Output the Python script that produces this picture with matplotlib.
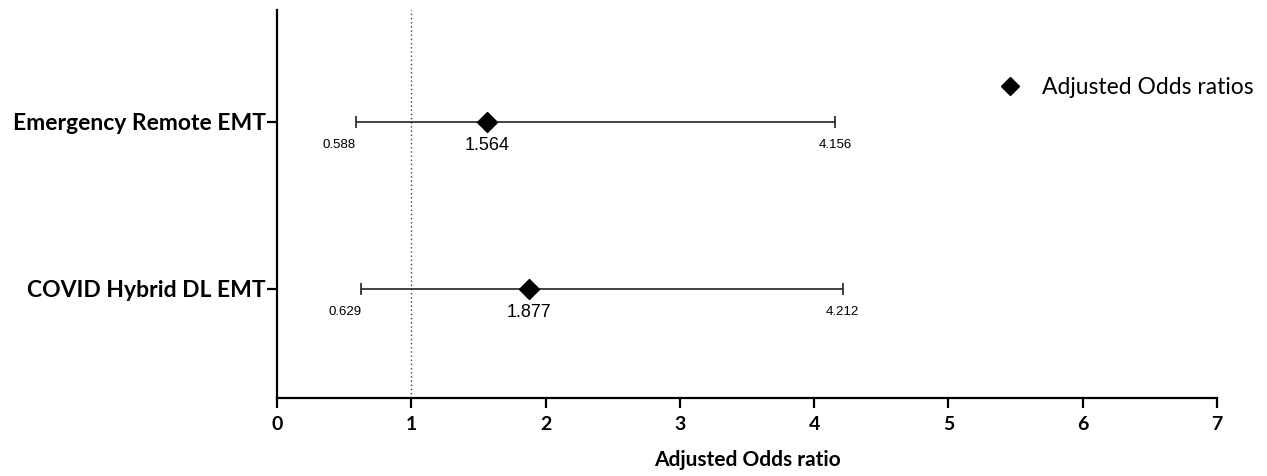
import matplotlib.pyplot as plt
import numpy as np

groups = ["Emergency Remote EMT", "COVID Hybrid DL EMT"]
odds = [1.564, 1.877]
lower = [0.588, 0.629]
upper = [4.156, 4.212]
odds_labels = ["1.564", "1.877"]
lower_labels = ["0.588", "0.629"]
upper_labels = ["4.156", "4.212"]

ypos = np.array([2, 1])

fig = plt.figure(figsize=(12.67, 4.76), dpi=100)
ax = fig.add_axes([0.2186, 0.1639, 0.742, 0.815])

bold_font = ["Lato", "DejaVu Sans"]

ax.axvline(1, color="#444444", linestyle=(0, (1, 2)), linewidth=1, zorder=1)

ax.errorbar(odds, ypos,
            xerr=[np.array(odds) - np.array(lower), np.array(upper) - np.array(odds)],
            fmt="none", ecolor="#222222", elinewidth=1.2, capsize=4, capthick=1.2, zorder=2)
ax.plot(odds, ypos, "D", color="black", markersize=10, zorder=3,
        label="Adjusted Odds ratios", linestyle="none")

for y, o, lo, hi, ol, ll, hl in zip(ypos, odds, lower, upper, odds_labels, lower_labels, upper_labels):
    ax.text(o, y - 0.09, ol, ha="center", va="top", fontsize=13, family="Liberation Sans")
    ax.text(lo, y - 0.1, ll, ha="right", va="top", fontsize=9.5, family="Liberation Sans")
    ax.text(hi, y - 0.1, hl, ha="center", va="top", fontsize=9.5, family="Liberation Sans")

ax.set_xlim(0, 7)
ax.set_ylim(0.347, 2.67)
ax.set_xticks(range(8))
ax.set_yticks(ypos)
ax.set_yticklabels(groups, fontsize=16.5, fontweight="bold", family=bold_font)
for lab in ax.get_xticklabels():
    lab.set_fontweight("bold")
    lab.set_fontsize(14)
    lab.set_family(bold_font)
ax.set_xlabel("Adjusted Odds ratio", fontsize=15, fontweight="bold", family=bold_font, labelpad=12)

ax.spines["top"].set_visible(False)
ax.spines["right"].set_visible(False)
ax.spines["left"].set_linewidth(1.6)
ax.spines["bottom"].set_linewidth(1.6)
ax.tick_params(axis="x", width=1.6, length=7, pad=6)
ax.tick_params(axis="y", width=1.6, length=7, pad=1)

leg = ax.legend(loc="upper left", bbox_to_anchor=(0.758, 0.85), frameon=False,
                prop={"family": "Lato", "size": 16.5}, handletextpad=0.9, handlelength=1.0,
                borderaxespad=0, markerscale=0.9)

fig.savefig("out.png", dpi=100)
